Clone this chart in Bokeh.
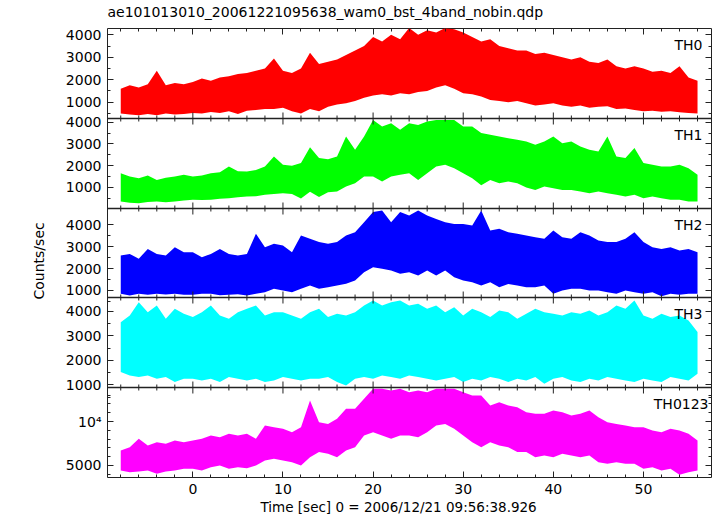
from bokeh.plotting import figure
from bokeh.models import (Range1d, LinearAxis, SingleIntervalTicker, FixedTicker,
                          Label, Title, CustomJSTickFormatter, Span)
from bokeh.embed import file_html
from bokeh.resources import INLINE

# ---------------- data (1-s envelopes) ----------------
TIME = list(range(-8, 57))

TH0_HI = [1600, 1750, 1650, 1800, 2400, 1750, 1850, 1800, 1900, 2050, 1950, 2100, 2150, 2250,
          2300, 2400, 2500, 2950, 2400, 2300, 2500, 3200, 2700, 2800, 2900, 3100, 3300, 3500,
          3900, 3700, 4000, 3800, 4300, 4000, 4200, 4100, 4300, 4250, 4100, 3900, 3700, 3800,
          3500, 3400, 3300, 3300, 3150, 3200, 3100, 3000, 2900, 3000, 2800, 2750, 2900, 2600,
          2500, 2600, 2500, 2350, 2400, 2300, 2600, 2100, 1950]
TH0_LO = [500, 450, 420, 480, 420, 500, 450, 480, 520, 500, 560, 520, 600, 480, 620, 650,
          700, 700, 750, 600, 500, 700, 600, 800, 900, 950, 1050, 1200, 1300, 1350, 1300, 1400,
          1350, 1450, 1500, 1650, 1750, 1600, 1400, 1350, 1250, 1100, 1050, 1000, 1050, 950,
          850, 900, 950, 850, 800, 850, 750, 800, 820, 700, 720, 650, 600, 620, 580, 600, 550,
          520, 500]

TH1_HI = [1660, 1500, 1430, 1550, 1350, 1450, 1500, 1580, 1500, 1550, 1660, 1700, 1960, 1750,
          1730, 1800, 1960, 2420, 2040, 2000, 2120, 2850, 2350, 2300, 2420, 3340, 2730, 3340,
          4100, 3800, 3950, 3650, 3950, 3870, 4030, 4100, 4100, 4100, 3800, 3800, 3500, 3420,
          3340, 3260, 3190, 3110, 2960, 3110, 3340, 3030, 3110, 2880, 2730, 2650, 3340, 2420,
          2350, 2810, 2120, 2040, 1960, 1960, 2040, 1890, 1580]
TH1_LO = [360, 300, 280, 330, 357, 320, 357, 400, 434, 420, 434, 480, 510, 550, 587, 600,
          664, 700, 740, 700, 500, 800, 560, 780, 817, 1050, 1200, 1500, 1500, 1280, 1500, 1580,
          1660, 1350, 1660, 1965, 2040, 1890, 1660, 1430, 1100, 1350, 1200, 1270, 1200, 1000,
          890, 1050, 970, 890, 890, 820, 740, 820, 740, 664, 587, 664, 510, 587, 510, 434, 434,
          357, 357]

TH2_HI = [2600, 2670, 2450, 2900, 2670, 2600, 2980, 2750, 2750, 2520, 2670, 2900, 2670, 2600,
          2670, 3590, 2980, 3130, 3050, 2750, 3510, 3360, 3210, 3130, 3210, 3510, 3660, 4120,
          4580, 4650, 4120, 4580, 4420, 4650, 4420, 4270, 4120, 4040, 4040, 3970, 4650, 3740,
          3820, 3660, 3590, 3510, 3430, 3360, 3740, 3430, 3360, 3660, 3510, 3280, 3210, 3210,
          3360, 3660, 3210, 2980, 2900, 2980, 2830, 2900, 2750]
TH2_LO = [850, 770, 850, 800, 850, 820, 850, 800, 800, 850, 850, 780, 800, 830, 770, 850,
          925, 1076, 1000, 925, 1076, 1228, 1076, 1150, 1228, 1304, 1457, 1837, 2065, 1990,
          1913, 1760, 1837, 1685, 1913, 1685, 1913, 1610, 1457, 1380, 1228, 1380, 1152, 1300,
          1228, 1152, 1152, 1228, 850, 1000, 1076, 1076, 1000, 1000, 925, 850, 1000, 925, 850,
          925, 741, 850, 800, 850, 850]

TH3_HI = [3565, 3838, 4383, 3974, 4247, 3701, 4110, 3906, 3770, 3974, 4247, 3838, 3701, 3974,
          4110, 4247, 3838, 3974, 3974, 3838, 3701, 3974, 4110, 3770, 3906, 3838, 3974, 4247,
          4452, 4247, 4383, 4452, 4247, 4315, 4110, 4247, 3974, 4179, 3838, 4110, 3974, 3770,
          4042, 3974, 3701, 3906, 4110, 3974, 3906, 3838, 3974, 3906, 4042, 3838, 3974, 4247,
          4110, 4452, 3838, 3701, 3906, 3770, 3838, 3633, 3156]
TH3_LO = [1519, 1383, 1314, 1383, 1246, 1314, 1110, 1246, 1246, 1178, 1246, 1110, 1314, 1246,
          1178, 1246, 1110, 1178, 1314, 1246, 1178, 1246, 1246, 1314, 1110, 973, 1246, 1314,
          1246, 1383, 1314, 1246, 1383, 1314, 1246, 1178, 1246, 1314, 1110, 1246, 1178, 1314,
          1246, 1110, 1246, 1178, 1314, 1042, 1246, 1314, 1178, 1110, 1246, 1178, 1314, 1246,
          1178, 1110, 1246, 1178, 1110, 1314, 1246, 1178, 1451]

TH0123_HI = [6700, 7080, 8030, 7270, 7650, 7460, 7840, 7650, 7840, 8030, 8410, 8220, 8600, 8410,
             8600, 8030, 9550, 9360, 9170, 8790, 9360, 12390, 9920, 9730, 10300, 11440, 11440,
             12580, 13710, 13710, 13520, 13710, 13330, 13520, 13330, 13710, 13710, 13710, 13330,
             12960, 12960, 11820, 12200, 11820, 11630, 11060, 10870, 10870, 11250, 11060, 10680,
             10870, 11250, 10490, 9920, 9730, 9550, 9360, 9360, 8980, 8790, 9170, 8980, 8600, 7840]
TH0123_LO = [4430, 4240, 4320, 4430, 4050, 4320, 4430, 4620, 4620, 4430, 4810, 5000, 4620, 4810,
             4700, 5000, 5570, 5760, 5570, 5380, 5000, 5950, 6520, 6330, 5950, 6700, 7080, 8410,
             8790, 8410, 8030, 8410, 8410, 8220, 8790, 9550, 9730, 9170, 8410, 7650, 7080, 7650,
             7270, 7080, 6520, 6520, 5950, 6140, 5950, 6330, 6140, 5950, 6140, 5380, 5190, 5380,
             5190, 5190, 4620, 4810, 4430, 4620, 3940, 4240, 4430]

PANEL_NAMES = ["TH0", "TH1", "TH2", "TH3", "TH0123"]
SERIES_LO = [TH0_LO, TH1_LO, TH2_LO, TH3_LO, TH0123_LO]
SERIES_HI = [TH0_HI, TH1_HI, TH2_HI, TH3_HI, TH0123_HI]
COLORS = ["#ff0000", "#00ff00", "#0000ff", "#00ffff", "#ff00ff"]
Y_RANGES = [(275, 4280), (35, 4170), (680, 4744), (889, 4573), (3636, 13864)]
Y_MAJOR = [[1000, 2000, 3000, 4000]] * 4 + [[5000, 10000]]
Y_MINOR = [[500, 1500, 2500, 3500]] * 4 + [[4000, 6000, 7000, 8000, 9000, 11000, 12000, 13000]]
Y_MAJOR_TEXT = [["1000", "2000", "3000", "4000"]] * 4 + [["5000", "10\u2074"]]
X_RANGE = (-9.47, 57.55)

TITLE = "ae101013010_20061221095638_wam0_bst_4band_nobin.qdp"
X_LABEL = "Time [sec] 0 = 2006/12/21 09:56:38.926"
Y_LABEL = "Counts/sec"

# ---------------- layout / style ----------------
FONT = "DejaVu Sans"
FRAME_W = 604
PANEL_PX = [90, 90, 89, 90, 90]          # panel heights, top to bottom
FRAME_H = sum(PANEL_PX)
FRAME_COLOR = "#222222"
LABEL_X = [56.55, 56.55, 56.55, 56.55, 57.22]

bounds = []
top_px = FRAME_H
for h in PANEL_PX:
    bounds.append((top_px - h, top_px))
    top_px -= h

p = figure(frame_width=FRAME_W, frame_height=FRAME_H,
           x_range=Range1d(*X_RANGE), y_range=Range1d(0, FRAME_H),
           x_axis_location=None, y_axis_location=None,
           output_backend="svg", toolbar_location=None,
           min_border_left=107, min_border_right=6, min_border_top=27, min_border_bottom=40,
           background_fill_color="white", border_fill_color="white")
p.xgrid.grid_line_color = None
p.ygrid.grid_line_color = None
p.outline_line_color = FRAME_COLOR
p.outline_line_width = 1

major_pos, minor_pos, label_map = [], [], {}
for i in range(5):
    y0, y1 = Y_RANGES[i]
    b, t = bounds[i]
    scale = (y1 - y0) / (t - b)
    name = PANEL_NAMES[i]
    p.extra_y_ranges[name] = Range1d(y0 - b * scale, y1 + (FRAME_H - t) * scale)
    p.varea(x=TIME, y1=SERIES_LO[i], y2=SERIES_HI[i], fill_color=COLORS[i],
            fill_alpha=1.0, y_range_name=name)
    for v, txt in zip(Y_MAJOR[i], Y_MAJOR_TEXT[i]):
        pos = round(b + (v - y0) / scale, 3)
        major_pos.append(pos)
        label_map["%.3f" % pos] = txt
    for v in Y_MINOR[i]:
        minor_pos.append(round(b + (v - y0) / scale, 3))
    p.add_layout(Label(x=LABEL_X[i], y=t - 16, text=name, text_align="right",
                       text_baseline="alphabetic", text_font=FONT, text_font_size="14px",
                       text_color="black"))

inner = [b for (b, t) in bounds[:-1]]
for yb in inner:
    p.add_layout(Span(location=yb, dimension="width", line_color=FRAME_COLOR, line_width=1.5))
tx0, ty0, tx1, ty1 = [], [], [], []
for yb in inner:
    for xv in range(-8, 57, 2):
        ln = 6 if xv % 10 == 0 else 3
        tx0.append(xv); tx1.append(xv); ty0.append(yb - ln); ty1.append(yb + ln)
p.segment(x0=tx0, y0=ty0, x1=tx1, y1=ty1, line_color=FRAME_COLOR, line_width=1)

yt = FixedTicker(ticks=major_pos, minor_ticks=minor_pos)
xt = SingleIntervalTicker(interval=10, num_minor_ticks=5)
ylab_fmt = CustomJSTickFormatter(args=dict(labels=label_map),
                                 code="const s = labels[tick.toFixed(3)]; return s === undefined ? '' : s;")
blank = CustomJSTickFormatter(code="return '';")


def style_axis(ax, show_labels):
    ax.axis_line_color = None
    ax.major_tick_in = 6
    ax.major_tick_out = 0
    ax.minor_tick_in = 3
    ax.minor_tick_out = 0
    ax.major_tick_line_color = FRAME_COLOR
    ax.minor_tick_line_color = FRAME_COLOR
    if show_labels:
        ax.major_label_text_font = FONT
        ax.major_label_text_font_size = "14px"
        ax.major_label_text_color = "black"
    else:
        ax.formatter = blank
        ax.major_label_text_font_size = "0px"
        ax.major_label_standoff = 0


left = LinearAxis(ticker=yt, formatter=ylab_fmt)
style_axis(left, True)
left.major_label_standoff = 6
right = LinearAxis(ticker=yt)
style_axis(right, False)
top = LinearAxis(ticker=xt)
style_axis(top, False)
bottom = LinearAxis(ticker=xt)
style_axis(bottom, True)
bottom.major_label_standoff = 6

# invisible spacer above the frame, lifts the title clear of the frame
spacer = LinearAxis(ticker=xt)
style_axis(spacer, False)
spacer.major_tick_in = 0
spacer.minor_tick_in = 0
spacer.major_tick_out = 8
spacer.major_tick_line_color = None
spacer.minor_tick_line_color = None

p.add_layout(left, "left")
p.add_layout(right, "right")
p.add_layout(top, "above")
p.add_layout(spacer, "above")
p.add_layout(bottom, "below")

p.title.text = TITLE
p.title.align = "left"
p.title.offset = 0
p.title.standoff = 2
p.title.text_font = FONT
p.title.text_font_size = "14px"
p.title.text_font_style = "normal"
p.title.text_color = "black"

p.add_layout(Title(text=Y_LABEL, align="left", offset=178, standoff=31,
                   text_font=FONT, text_font_size="14px",
                   text_font_style="normal", text_color="black"), "left")

p.add_layout(Title(text=X_LABEL, align="left", offset=153, standoff=0,
                   text_font=FONT, text_font_size="13.5px",
                   text_font_style="normal", text_color="black"), "below")

open("out.html", "w").write(file_html(p, INLINE))
